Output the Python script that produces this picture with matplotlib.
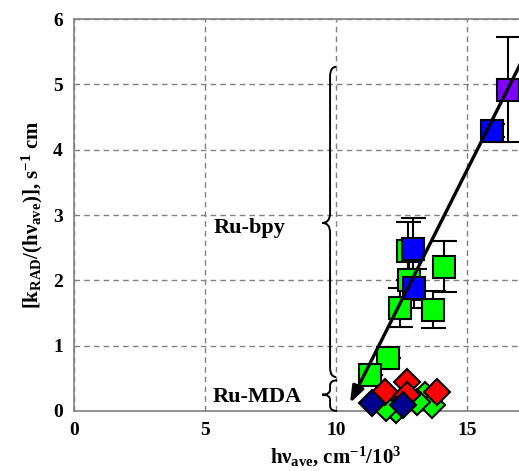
import matplotlib.pyplot as plt
from matplotlib.path import Path
from matplotlib.patches import PathPatch

# Ru-bpy complexes (squares with error bars)
bpy_green_x = [12.75, 14.12, 12.80, 12.44, 13.68, 11.99, 11.30]
bpy_green_y = [2.45, 2.21, 2.00, 1.58, 1.55, 0.81, 0.55]
bpy_green_err = [0.45, 0.39, 0.30, 0.30, 0.28, 0.0, 0.0]

bpy_blue_x = [12.94, 12.97, 15.95]
bpy_blue_y = [2.48, 1.88, 4.29]
bpy_blue_err = [0.48, 0.30, 0.10]

bpy_purple_x = [16.56]
bpy_purple_y = [4.92]
bpy_purple_err = [0.80]

# Ru-MDA complexes (diamonds)
mda_green_x = [13.40, 13.66, 13.10, 12.30, 11.90]
mda_green_y = [0.25, 0.09, 0.14, 0.02, 0.05]
mda_red_x = [11.87, 12.70, 12.70, 13.85]
mda_red_y = [0.29, 0.44, 0.25, 0.29]
mda_navy_x = [11.37, 12.56]
mda_navy_y = [0.12, 0.09]

# trend arrow end points
arrow_tail = (18.0, 6.09)
arrow_head = (10.53, 0.12)

plt.rcParams['font.family'] = 'Liberation Serif'
plt.rcParams['font.weight'] = 'bold'
plt.rcParams['mathtext.fontset'] = 'custom'
plt.rcParams['mathtext.rm'] = 'Liberation Serif:bold'
plt.rcParams['mathtext.it'] = 'Liberation Serif:bold'
plt.rcParams['mathtext.bf'] = 'Liberation Serif:bold'

fig = plt.figure(figsize=(5.19, 4.71), dpi=100)
ax = fig.add_axes([0.1426, 0.1274, 1.01, 0.832])
ax.set_xlim(0, 20)
ax.set_ylim(0, 6)
ax.set_xticks([0, 5, 10, 15])
ax.set_yticks(range(7))
ax.tick_params(length=0, labelsize=14, pad=8)
for lab in ax.get_xticklabels() + ax.get_yticklabels():
    lab.set_fontweight('bold')
for s in ax.spines.values():
    s.set_color('#808080')
    s.set_linewidth(1.2)
ax.grid(True, color='#808080', linestyle=(0, (4, 3)), linewidth=1)
ax.set_axisbelow(True)

ax.set_xlabel(r'h$\nu_{ave}$, cm$^{-1}$/10$^3$', fontsize=15, fontweight='bold', labelpad=4)
ax.set_ylabel(r'[k$_{RAD}$/(h$\nu_{ave}$)], s$^{-1}$ cm', fontsize=15, fontweight='bold', labelpad=6)

sq = dict(marker='s', markersize=16, markeredgecolor='black', markeredgewidth=1.5, linestyle='none', zorder=4)
eb = dict(fmt='none', ecolor='black', elinewidth=1.5, capsize=9, capthick=1.5, zorder=3)

ax.errorbar(bpy_green_x, bpy_green_y, yerr=bpy_green_err, **eb)
ax.errorbar(bpy_blue_x, bpy_blue_y, yerr=bpy_blue_err, **eb)
ax.errorbar(bpy_purple_x, bpy_purple_y, yerr=bpy_purple_err, **eb)
ax.plot(bpy_green_x, bpy_green_y, markerfacecolor='#00ff00', **sq)
ax.plot(bpy_blue_x, bpy_blue_y, markerfacecolor='#0000ff', **sq)
ax.plot(bpy_purple_x, bpy_purple_y, markerfacecolor='#8000ff', **sq)

# diamonds near zero spill over the bottom spine
dm = dict(marker='D', markersize=13.5, markeredgecolor='black', markeredgewidth=1.5, linestyle='none',
          zorder=4, clip_on=False)
ax.plot(mda_green_x, mda_green_y, markerfacecolor='#00ff00', **dm)
ax.plot(mda_red_x, mda_red_y, markerfacecolor='#ff0000', **dm)
ax.plot(mda_navy_x, mda_navy_y, markerfacecolor='#000090', **dm)

ax.annotate('', xy=arrow_head, xytext=arrow_tail, annotation_clip=False,
            arrowprops=dict(arrowstyle='-|>,head_length=0.55,head_width=0.2', color='black', lw=2.4,
                            mutation_scale=18, shrinkA=0, shrinkB=0),
            zorder=6)


def left_brace(x_hook, x_stem, x_tip, top, mid, bot, r):
    verts = [(x_hook, top), (x_stem, top), (x_stem, top - r),
             (x_stem, mid + r), (x_stem, mid), (x_tip, mid),
             (x_stem, mid), (x_stem, mid - r),
             (x_stem, bot + r), (x_stem, bot), (x_hook, bot)]
    codes = [Path.MOVETO, Path.CURVE3, Path.CURVE3,
             Path.LINETO, Path.CURVE3, Path.CURVE3,
             Path.CURVE3, Path.CURVE3,
             Path.LINETO, Path.CURVE3, Path.CURVE3]
    ax.add_patch(PathPatch(Path(verts, codes), fill=False, lw=1.4, color='black', zorder=5, clip_on=False))


left_brace(10.0, 9.77, 9.47, 5.27, 2.88, 0.52, 0.15)
left_brace(10.04, 9.77, 9.47, 0.47, 0.25, 0.0, 0.08)

ax.text(6.7, 2.8, 'Ru-bpy', fontsize=16, fontweight='bold', ha='center', va='center')
ax.text(7.0, 0.21, 'Ru-MDA', fontsize=16, fontweight='bold', ha='center', va='center')

fig.savefig('out.png', dpi=100)
